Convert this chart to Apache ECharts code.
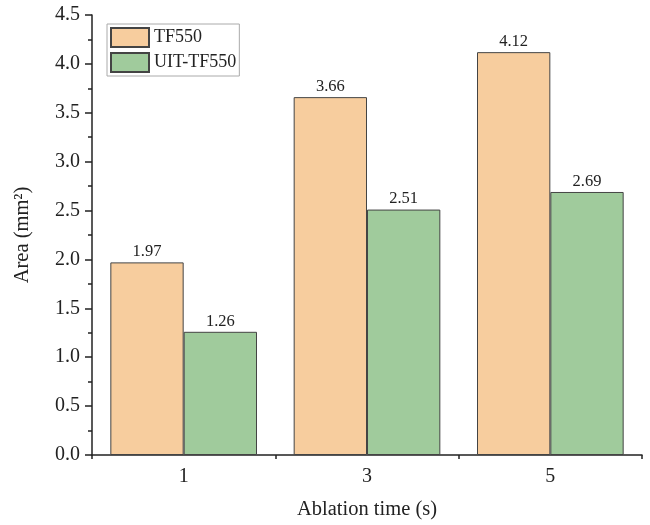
<!DOCTYPE html>
<html><head><meta charset="utf-8">
<script src="https://cdn.jsdelivr.net/npm/echarts@6/dist/echarts.min.js"></script>
<style>html,body{margin:0;padding:0;background:#fff}#c{width:650px;height:525px}</style>
</head><body><div id="c"></div>
<script>
const categories = ['1', '3', '5'];
const tf550 = [1.97, 3.66, 4.12];
const uitTf550 = [1.26, 2.51, 2.69];
const seriesNames = ['TF550', 'UIT-TF550'];
const FONT = '"Liberation Serif", "Times New Roman", serif';
const chart = echarts.init(document.getElementById('c'));
const lbl = {show: true, position: 'top', distance: 2, color: '#222', fontFamily: FONT, fontSize: 16.5, formatter: p => p.value.toFixed(2)};
chart.setOption({
  animation: false,
  backgroundColor: '#fff',
  textStyle: {fontFamily: FONT},
  grid: {left: 92, right: 8, top: 15, bottom: 65, containLabel: false},
  legend: {
    orient: 'vertical', left: 107, top: 24,
    icon: 'rect',
    itemWidth: 38, itemHeight: 19, itemGap: 4,
    padding: [3, 3, 3, 3],
    borderColor: '#aaa', borderWidth: 1,
    textStyle: {fontFamily: FONT, fontSize: 18, lineHeight: 19, color: '#222'},
    data: seriesNames
  },
  xAxis: [{
    type: 'category', data: categories,
    name: 'Ablation time (s)', nameLocation: 'middle', nameGap: 44,
    nameTextStyle: {fontFamily: FONT, fontSize: 20.5, color: '#222'},
    axisLine: {lineStyle: {color: '#222', width: 1.5}},
    axisTick: {alignWithLabel: true, length: 7, lineStyle: {color: '#222', width: 1.5}},
    axisLabel: {fontFamily: FONT, fontSize: 20, color: '#222', margin: 12}
  }, {
    type: 'category', data: categories, position: 'bottom',
    axisLine: {show: false},
    axisTick: {show: true, length: 4, lineStyle: {color: '#222', width: 1.5}},
    axisLabel: {show: false}
  }],
  yAxis: {
    type: 'value', min: 0, max: 4.5, interval: 0.5,
    name: 'Area (mm²)', nameLocation: 'middle', nameGap: 59, nameRotate: 90,
    nameTextStyle: {fontFamily: FONT, fontSize: 20.5, color: '#222'},
    splitLine: {show: false},
    axisLine: {show: true, lineStyle: {color: '#222', width: 1.5}},
    axisTick: {show: true, length: 7, lineStyle: {color: '#222', width: 1.5}},
    minorTick: {show: true, splitNumber: 2, length: 4, lineStyle: {color: '#222', width: 1.5}},
    axisLabel: {fontFamily: FONT, fontSize: 20, color: '#222', margin: 12, formatter: v => v.toFixed(1)}
  },
  series: [{
    name: seriesNames[0], type: 'bar', data: tf550, barWidth: '40%', barGap: '0%',
    itemStyle: {color: '#F7CD9E', borderColor: '#444', borderWidth: 1},
    label: lbl
  }, {
    name: seriesNames[1], type: 'bar', data: uitTf550, barWidth: '40%', barGap: '0%',
    itemStyle: {color: '#A0CB9C', borderColor: '#444', borderWidth: 1},
    label: lbl
  }]
});
</script></body></html>
